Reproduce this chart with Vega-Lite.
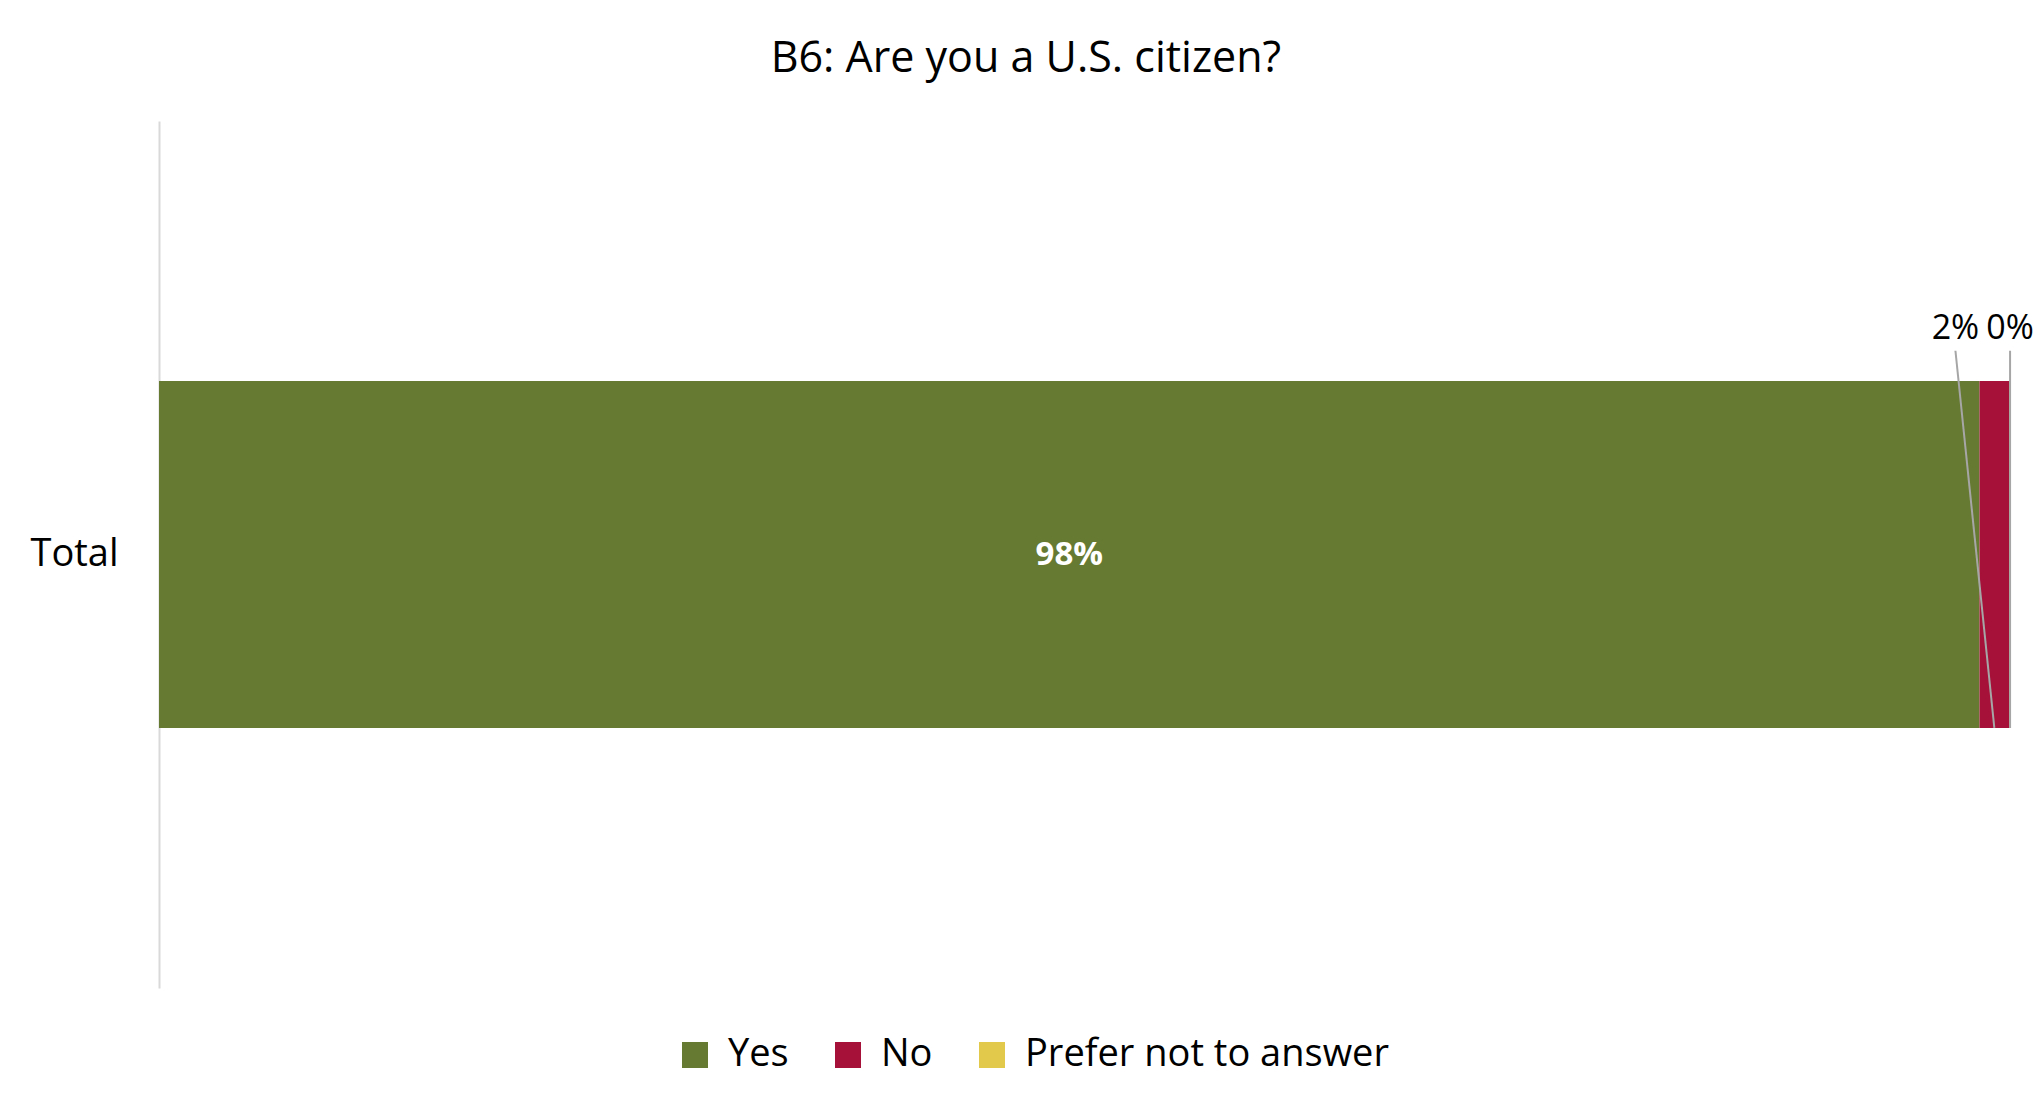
{
  "$schema": "https://vega.github.io/schema/vega-lite/v6.json",
  "width": 1852,
  "height": 867,
  "padding": {"left": 29, "top": 38, "right": 31, "bottom": 20},
  "title": {"text": "B6: Are you a U.S. citizen?", "fontSize": 43, "font": "Open Sans", "fontWeight": "normal", "color": "#000000", "offset": 40, "anchor": "middle", "frame": "bounds", "dx": -6},
  "config": {"view": {"stroke": null}, "font": "Open Sans"},
  "data": {"values": [
    {"cat": "Total", "answer": "Yes", "order": 1, "pct": 98.3, "label": "98%"},
    {"cat": "Total", "answer": "No", "order": 2, "pct": 1.6, "label": "2%"},
    {"cat": "Total", "answer": "Prefer not to answer", "order": 3, "pct": 0.1, "label": "0%"}
  ]},
  "transform": [
    {"stack": "pct", "groupby": ["cat"], "sort": [{"field": "order"}], "as": ["x0", "x1"]},
    {"calculate": "(datum.x0 + datum.x1) / 2", "as": "mid"},
    {"calculate": "datum.answer === 'No' ? datum.mid - 2.1 : datum.mid", "as": "labx"}
  ],
  "layer": [
    {
      "mark": {"type": "bar", "height": {"band": 0.4}},
      "encoding": {
        "y": {"field": "cat", "type": "nominal", "scale": {"paddingInner": 0, "paddingOuter": 0}, "axis": {"title": null, "ticks": false, "labelFontSize": 38, "labelColor": "#000000", "labelPadding": 41, "domainColor": "#d9d9d9", "domainWidth": 2, "labelFont": "Open Sans"}},
        "x": {"field": "x0", "type": "quantitative", "scale": {"domain": [0, 100], "nice": false}, "axis": null},
        "x2": {"field": "x1"},
        "color": {"field": "answer", "type": "nominal", "scale": {"domain": ["Yes", "No", "Prefer not to answer"], "range": ["#677A32", "#A6113A", "#E2C94B"]},
          "legend": {"title": null, "orient": "none", "legendX": 517, "legendY": 915, "padding": 0, "direction": "horizontal", "symbolType": "square", "symbolSize": 676, "symbolStrokeWidth": 0, "labelFontSize": 38, "labelLimit": 0, "labelColor": "#000000", "labelFont": "Open Sans", "columnPadding": 40, "labelOffset": 14}}
      }
    },
    {
      "transform": [{"filter": "datum.answer === 'Yes'"}],
      "mark": {"type": "text", "color": "#ffffff", "fontWeight": "bold", "fontSize": 33, "font": "Open Sans"},
      "encoding": {
        "x": {"field": "mid", "type": "quantitative", "scale": {"domain": [0, 100], "nice": false}},
        "y": {"field": "cat", "type": "nominal", "axis": null},
        "text": {"field": "label"}
      }
    },
    {
      "transform": [{"filter": "datum.answer !== 'Yes'"}],
      "mark": {"type": "rule", "color": "#a6a6a6", "strokeWidth": 2},
      "encoding": {
        "x": {"field": "labx", "type": "quantitative", "scale": {"domain": [0, 100], "nice": false}},
        "x2": {"field": "mid"},
        "y": {"datum": 0.735, "type": "quantitative", "scale": {"domain": [0, 1], "nice": false}, "axis": null},
        "y2": {"datum": 0.3}
      }
    },
    {
      "transform": [{"filter": "datum.answer !== 'Yes'"}],
      "mark": {"type": "text", "color": "#000000", "fontSize": 34, "font": "Open Sans"},
      "encoding": {
        "x": {"field": "labx", "type": "quantitative", "scale": {"domain": [0, 100], "nice": false}},
        "y": {"datum": 0.76, "type": "quantitative", "scale": {"domain": [0, 1], "nice": false}, "axis": null},
        "text": {"field": "label"}
      }
    }
  ],
  "resolve": {"scale": {"y": "independent"}, "axis": {"y": "independent"}}
}
